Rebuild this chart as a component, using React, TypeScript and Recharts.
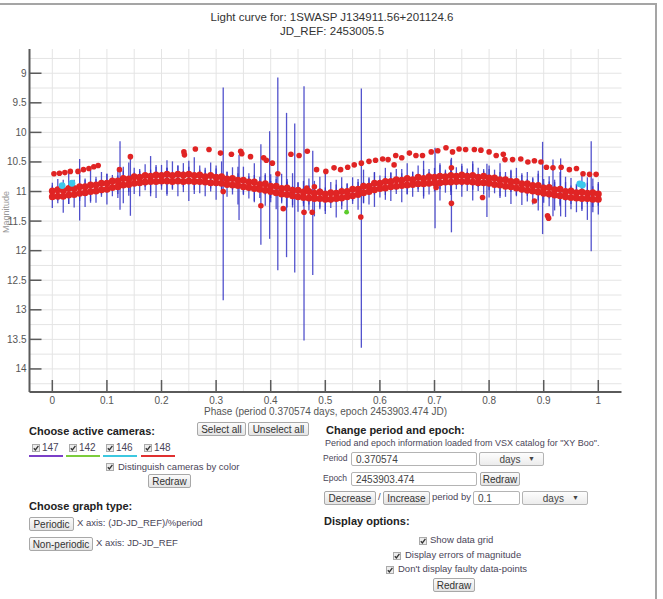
import { ScatterChart, Scatter, XAxis, YAxis, CartesianGrid, ErrorBar } from 'recharts';

const FONT = '"Liberation Sans", Arial, sans-serif';

// axes
const xTicks = [0, 0.1, 0.2, 0.3, 0.4, 0.5, 0.6, 0.7, 0.8, 0.9, 1];
const yTicks = [9, 9.5, 10, 10.5, 11, 11.5, 12, 12.5, 13, 13.5, 14];
const gridX = [0, 0.05, 0.1, 0.15, 0.2, 0.25, 0.3, 0.35, 0.4, 0.45, 0.5, 0.55, 0.6, 0.65, 0.7, 0.75, 0.8, 0.85, 0.9, 0.95, 1];
const gridY = [8.75, 9, 9.25, 9.5, 9.75, 10, 10.25, 10.5, 10.75, 11, 11.25, 11.5, 11.75, 12, 12.25, 12.5, 12.75, 13, 13.25, 13.5, 13.75, 14, 14.25];
const xDomain = [-0.0418, 1.0425];
const yDomain = [8.59, 14.39];

// main band, camera 148 (two rows of points across the phase)
const bandPhase = [
  0, 0.01, 0.02, 0.03, 0.04, 0.05, 0.06, 0.07, 0.08, 0.09,
  0.1, 0.11, 0.12, 0.13, 0.14, 0.15, 0.16, 0.17, 0.18, 0.19,
  0.2, 0.21, 0.22, 0.23, 0.24, 0.25, 0.26, 0.27, 0.28, 0.29,
  0.3, 0.31, 0.32, 0.33, 0.34, 0.35, 0.36, 0.37, 0.38, 0.39,
  0.4, 0.41, 0.42, 0.43, 0.44, 0.45, 0.46, 0.47, 0.48, 0.49,
  0.5, 0.51, 0.52, 0.53, 0.54, 0.55, 0.56, 0.57, 0.58, 0.59,
  0.6, 0.61, 0.62, 0.63, 0.64, 0.65, 0.66, 0.67, 0.68, 0.69,
  0.7, 0.71, 0.72, 0.73, 0.74, 0.75, 0.76, 0.77, 0.78, 0.79,
  0.8, 0.81, 0.82, 0.83, 0.84, 0.85, 0.86, 0.87, 0.88, 0.89,
  0.9, 0.91, 0.92, 0.93, 0.94, 0.95, 0.96, 0.97, 0.98, 0.99,
  1,
];
const bandUpper = [
  10.99, 10.97, 10.98, 10.95, 10.95, 10.92, 10.92, 10.89, 10.89, 10.86,
  10.86, 10.82, 10.82, 10.78, 10.79, 10.75, 10.76, 10.73, 10.74, 10.72,
  10.73, 10.71, 10.73, 10.71, 10.72, 10.71, 10.73, 10.72, 10.75, 10.73,
  10.76, 10.75, 10.79, 10.78, 10.81, 10.81, 10.84, 10.84, 10.88, 10.87,
  10.91, 10.91, 10.95, 10.94, 10.98, 10.98, 11.01, 11.0, 11.03, 11.01,
  11.04, 11.02, 11.03, 11.0, 11.0, 10.96, 10.96, 10.91, 10.91, 10.86,
  10.86, 10.83, 10.83, 10.8, 10.81, 10.78, 10.8, 10.76, 10.78, 10.75,
  10.76, 10.74, 10.75, 10.73, 10.74, 10.72, 10.74, 10.73, 10.76, 10.74,
  10.77, 10.77, 10.8, 10.8, 10.83, 10.83, 10.87, 10.87, 10.9, 10.9,
  10.94, 10.93, 10.97, 10.96, 11.0, 10.99, 11.02, 11.01, 11.03, 11.02,
  11.04,
];
const bandLower = [
  11.09, 11.08, 11.08, 11.06, 11.05, 11.03, 11.02, 11.0, 10.99, 10.97,
  10.96, 10.93, 10.92, 10.89, 10.88, 10.86, 10.85, 10.84, 10.83, 10.83,
  10.82, 10.82, 10.83, 10.82, 10.83, 10.82, 10.83, 10.83, 10.84, 10.85,
  10.85, 10.86, 10.88, 10.89, 10.9, 10.92, 10.93, 10.95, 10.96, 10.98,
  11.0, 11.02, 11.04, 11.05, 11.07, 11.09, 11.1, 11.11, 11.12, 11.12,
  11.13, 11.13, 11.12, 11.11, 11.09, 11.07, 11.05, 11.02, 11.0, 10.97,
  10.95, 10.94, 10.92, 10.91, 10.9, 10.89, 10.88, 10.87, 10.87, 10.86,
  10.85, 10.85, 10.84, 10.84, 10.83, 10.83, 10.83, 10.84, 10.85, 10.85,
  10.86, 10.88, 10.89, 10.91, 10.92, 10.94, 10.96, 10.98, 10.99, 11.01,
  11.03, 11.04, 11.06, 11.07, 11.09, 11.1, 11.11, 11.12, 11.12, 11.13,
  11.13,
];
const upperErr = [
  0.14, 0.18, 0.1, 0.26, 0.15, 0.2, 0.12, 0.3, 0.14, 0.19,
  0.16, 0.1, 0.22, 0.13, 0.28, 0.15, 0.11, 0.19, 0.34, 0.14,
  0.18, 0.11, 0.24, 0.15, 0.2, 0.13, 0.31, 0.16, 0.12, 0.22,
  0.15, 0.26, 0.13, 0.19, 0.12, 0.23, 0.15, 0.32, 0.13, 0.18,
  0.2, 0.12, 0.25, 0.15, 0.29, 0.13, 0.19, 0.22, 0.14, 0.26,
  0.34, 0.18, 0.15, 0.24, 0.13, 0.2, 0.12, 0.28, 0.15, 0.19,
  0.13, 0.23, 0.15, 0.18, 0.12, 0.26, 0.14, 0.2, 0.3, 0.13,
  0.16, 0.22, 0.12, 0.27, 0.15, 0.19, 0.13, 0.24, 0.16, 0.12,
  0.21, 0.14, 0.28, 0.13, 0.18, 0.23, 0.15, 0.2, 0.12, 0.25,
  0.15, 0.19, 0.13, 0.29, 0.16, 0.22, 0.14, 0.32, 0.18, 0.24,
  0.2,
];
const lowerErr = [
  0.19, 0.12, 0.28, 0.15, 0.22, 0.13, 0.24, 0.16, 0.2, 0.12,
  0.26, 0.15, 0.19, 0.31, 0.13, 0.18, 0.23, 0.14, 0.2, 0.28,
  0.15, 0.22, 0.12, 0.26, 0.18, 0.34, 0.14, 0.2, 0.24, 0.15,
  0.29, 0.13, 0.21, 0.16, 0.32, 0.14, 0.19, 0.23, 0.15, 0.26,
  0.18, 0.28, 0.13, 0.22, 0.16, 0.25, 0.15, 0.21, 0.3, 0.18,
  0.2, 0.15, 0.32, 0.19, 0.23, 0.14, 0.26, 0.18, 0.22, 0.29,
  0.15, 0.2, 0.24, 0.13, 0.28, 0.16, 0.21, 0.14, 0.25, 0.19,
  0.15, 0.3, 0.18, 0.22, 0.13, 0.26, 0.16, 0.31, 0.14, 0.2,
  0.24, 0.15, 0.22, 0.18, 0.29, 0.14, 0.27, 0.19, 0.23, 0.31,
  0.16, 0.21, 0.26, 0.15, 0.34, 0.2, 0.24, 0.18, 0.36, 0.22,
  0.26,
];

// points with large magnitude errors
const wildPhase = [0.05, 0.124, 0.143, 0.21, 0.313, 0.342, 0.382, 0.398, 0.413, 0.429, 0.444, 0.461, 0.477, 0.566, 0.701, 0.731, 0.796, 0.898, 0.917, 0.931, 0.987];
const wildMag = [10.97, 10.73, 10.91, 10.77, 11.04, 10.93, 11.05, 10.89, 10.7, 10.89, 11.11, 11.37, 11.36, 11.45, 10.94, 11.06, 10.98, 10.94, 10.94, 10.93, 11.08];
const wildErr = [0.52, 0.58, 0.5, 0.3, 1.8, 0.55, 0.85, 0.91, 1.63, 1.22, 1.26, 2.15, 1.05, 2.19, 0.68, 0.63, 0.45, 0.78, 0.48, 0.49, 0.93];

// camera 148, points away from the main band
const arcPhase = [
  0.003, 0.013, 0.023, 0.033, 0.047, 0.057, 0.067, 0.076, 0.084, 0.123, 0.143,
  0.241, 0.242, 0.262, 0.287, 0.308, 0.328, 0.345, 0.347, 0.363, 0.387, 0.392, 0.403, 0.437, 0.452, 0.467, 0.484, 0.501, 0.516,
  0.528, 0.541, 0.553, 0.566, 0.58, 0.592, 0.605, 0.615, 0.626, 0.629, 0.64, 0.654, 0.666, 0.678, 0.694, 0.706, 0.721, 0.733,
  0.745, 0.757, 0.773, 0.785, 0.8, 0.813, 0.826, 0.829, 0.843, 0.858, 0.871, 0.883, 0.895, 0.905, 0.917, 0.932, 0.947, 0.96,
  0.972, 0.984, 0.996,
];
const arcMag = [
  10.7, 10.69, 10.68, 10.66, 10.66, 10.63, 10.61, 10.58, 10.56, 10.63, 10.41,
  10.33, 10.38, 10.28, 10.29, 10.35, 10.37, 10.32, 10.36, 10.41, 10.43, 10.47, 10.52, 10.37, 10.39, 10.32, 10.63, 10.66, 10.6,
  10.63, 10.59, 10.55, 10.52, 10.49, 10.47, 10.45, 10.46, 10.55, 10.39, 10.43, 10.35, 10.39, 10.39, 10.33, 10.31, 10.26, 10.33,
  10.28, 10.29, 10.29, 10.3, 10.33, 10.39, 10.37, 10.46, 10.46, 10.45, 10.5, 10.48, 10.5, 10.59, 10.6, 10.59, 10.63, 10.61,
  10.7, 10.71, 10.71,
];
const strayPhase = [0.313, 0.382, 0.413, 0.423, 0.461, 0.466, 0.476, 0.48, 0.565, 0.703, 0.731, 0.731, 0.788, 0.883, 0.907, 0.909];
const strayMag = [11.0, 11.24, 10.7, 11.29, 11.35, 10.94, 11.35, 10.92, 11.43, 10.93, 11.2, 10.6, 11.1, 11.16, 11.41, 11.45];

// other cameras
const cyanPhase = [0.018, 0.036, 0.966, 0.971];
const cyanMag = [10.9, 10.86, 10.87, 10.89];
const greenPhase = [0.539];
const greenMag = [11.35];

const pts = (xs: number[], ys: number[], es?: number[]) =>
  xs.map((x, i) => ({ x, y: ys[i], err: es ? es[i] : 0 }));

const errorPoints = [
  ...pts(bandPhase, bandUpper, upperErr),
  ...pts(bandPhase, bandLower, lowerErr),
  ...pts(wildPhase, wildMag, wildErr),
];
const bandPoints = [...pts(bandPhase, bandUpper), ...pts(bandPhase, bandLower)];
const offPoints = [...pts(arcPhase, arcMag), ...pts(strayPhase, strayMag)];
const cyanPoints = pts(cyanPhase, cyanMag);
const greenPoints = pts(greenPhase, greenMag);

const AXIS = '#5a5a5a';

const XTick = ({ x, y, payload }: any) => (
  <g>
    <line x1={x} x2={x} y1={y} y2={y - 12} stroke={AXIS} strokeWidth={1.5} />
    <text x={x} y={y + 12} textAnchor="middle" fontSize={10} fill="#555" fontFamily={FONT}>{payload.value}</text>
  </g>
);

const YTick = ({ x, y, payload }: any) => (
  <g>
    <line x1={x} x2={x + 12} y1={y} y2={y} stroke={AXIS} strokeWidth={1.5} />
    <text x={x - 3} y={y + 3.5} textAnchor="end" fontSize={10} fill="#555" fontFamily={FONT}>{payload.value}</text>
  </g>
);

const MagLabel = () => (
  <text x={9} y={212} transform="rotate(-90 9 212)" textAnchor="middle" fontSize={9} fill="#999" fontFamily={FONT}>
    Magnitude
  </text>
);

const dot = (fill: string, r: number) => (p: any) => <circle cx={p.cx} cy={p.cy} r={r} fill={fill} />;

const text: any = { position: 'absolute', fontFamily: FONT, whiteSpace: 'nowrap', lineHeight: 1, color: '#4a4558' };

const Label = ({ x, y, size = 9.5, bold = false, color, children }: any) => (
  <div style={{ ...text, left: x, top: y - size * 0.6, fontSize: size, fontWeight: bold ? 700 : 400, color: color || text.color }}>
    {children}
  </div>
);

const Heading = ({ x, y, children }: any) => <Label x={x} y={y} size={11} bold color="#222">{children}</Label>;

const Btn = ({ x, y, w, h = 14, children }: any) => (
  <div
    style={{
      position: 'absolute', left: x, top: y, width: w, height: h, boxSizing: 'border-box',
      border: '1px solid #a8a8a8', borderRadius: 2, background: 'linear-gradient(#fbfbfb, #e4e4e4)',
      fontFamily: FONT, fontSize: 10, color: '#333', display: 'flex', alignItems: 'center', justifyContent: 'center',
    }}
  >
    {children}
  </div>
);

const Field = ({ x, y, w, h = 14, children }: any) => (
  <div
    style={{
      position: 'absolute', left: x, top: y, width: w, height: h, boxSizing: 'border-box',
      border: '1px solid #b4b4b4', borderRadius: 2, background: '#fff', fontFamily: FONT, fontSize: 10,
      color: '#444', display: 'flex', alignItems: 'center', paddingLeft: 4,
    }}
  >
    {children}
  </div>
);

const Select = ({ x, y, w, h = 14 }: any) => (
  <div
    style={{
      position: 'absolute', left: x, top: y, width: w, height: h, boxSizing: 'border-box',
      border: '1px solid #b4b4b4', borderRadius: 2, background: 'linear-gradient(#fdfdfd, #ececec)', fontFamily: FONT,
      fontSize: 10, color: '#444',
    }}
  >
    <span style={{ position: 'absolute', left: w * 0.3, top: 1 }}>days</span>
    <span style={{ position: 'absolute', right: 8, top: 2, fontSize: 7 }}>▼</span>
  </div>
);

const Check = ({ x, y }: any) => (
  <svg style={{ position: 'absolute', left: x, top: y }} width={8} height={8}>
    <rect x={0.5} y={0.5} width={7} height={7} fill="#ececec" stroke="#aaa" />
    <polyline points="1.8,4.2 3.4,6 6.4,1.8" fill="none" stroke="#333" strokeWidth={1.3} />
  </svg>
);

const Camera = ({ x, color, name }: any) => (
  <>
    <Check x={x + 3} y={444} />
    <Label x={x + 13} y={449} size={10}>{name}</Label>
    <div style={{ position: 'absolute', left: x, top: 455, width: 34, height: 1.5, background: color }} />
  </>
);

export default function App() {
  return (
    <div style={{ position: 'absolute', left: 0, top: 0, width: 663, height: 599, background: '#fff', overflow: 'hidden' }}>
      <div style={{ position: 'absolute', left: -2, top: 3, width: 657, height: 620, borderTop: '2px solid #a5a5a5', borderRight: '2px solid #a5a5a5' }} />
      <div style={{ ...text, left: 0, width: 664, textAlign: 'center', top: 12, fontSize: 11.5, color: '#333' }}>
        Light curve for: 1SWASP J134911.56+201124.6
      </div>
      <div style={{ ...text, left: 0, width: 664, textAlign: 'center', top: 26, fontSize: 11.5, color: '#333' }}>
        JD_REF: 2453005.5
      </div>

      <div style={{ position: 'absolute', left: 0, top: 0 }}>
        <ScatterChart width={663} height={420} margin={{ top: 49, right: 41.5, bottom: 0, left: 0 }}>
          <CartesianGrid stroke="#e4e4e4" verticalValues={gridX} horizontalValues={gridY} />
          <XAxis
            dataKey="x" type="number" domain={xDomain} allowDataOverflow ticks={xTicks} interval={0}
            height={28} tickSize={0} tickMargin={0} tick={<XTick />} tickLine={false}
            axisLine={{ stroke: AXIS, strokeWidth: 2 }}
            label={{ value: 'Phase (period 0.370574 days, epoch 2453903.474 JD)', position: 'insideBottom', offset: 5, fontSize: 10, fill: '#555', fontFamily: FONT }}
          />
          <XAxis xAxisId="top" orientation="top" type="number" domain={xDomain} allowDataOverflow height={0} tick={false} tickLine={false} axisLine={{ stroke: AXIS, strokeWidth: 2 }} />
          <YAxis
            dataKey="y" type="number" domain={yDomain} reversed allowDataOverflow ticks={yTicks} interval={0}
            width={29.5} tickSize={0} tickMargin={0} tick={<YTick />} tickLine={false}
            axisLine={{ stroke: AXIS, strokeWidth: 2 }}
            label={<MagLabel />}
          />
          <YAxis yAxisId="right" orientation="right" type="number" domain={yDomain} reversed allowDataOverflow width={0} tick={false} tickLine={false} axisLine={{ stroke: AXIS, strokeWidth: 2 }} />
          <Scatter data={errorPoints} shape={() => <g />} isAnimationActive={false}>
            <ErrorBar dataKey="err" direction="y" width={0} stroke="#3434c4" strokeWidth={1.3} strokeOpacity={0.85} />
          </Scatter>
          <Scatter data={bandPoints} shape={dot('#e02424', 3.5)} isAnimationActive={false} />
          <Scatter data={offPoints} shape={dot('#e02424', 2.8)} isAnimationActive={false} />
          <Scatter data={cyanPoints} shape={dot('#3cc8ec', 3.4)} isAnimationActive={false} />
          <Scatter data={greenPoints} shape={dot('#5ccc2c', 2.4)} isAnimationActive={false} />
        </ScatterChart>
      </div>

      {/* cameras */}
      <Heading x={29} y={433}>Choose active cameras:</Heading>
      <Btn x={197} y={422} w={49}>Select all</Btn>
      <Btn x={248} y={422} w={61}>Unselect all</Btn>
      <Camera x={29} color="#7b3fc8" name="147" />
      <Camera x={66} color="#7ccc3c" name="142" />
      <Camera x={103} color="#3cc8e0" name="146" />
      <Camera x={141} color="#e03030" name="148" />
      <Check x={106} y={463} />
      <Label x={118} y={468}>Distinguish cameras by color</Label>
      <Btn x={148} y={474} w={43}>Redraw</Btn>

      <Heading x={29} y={508}>Choose graph type:</Heading>
      <Btn x={29} y={517} w={45}>Periodic</Btn>
      <Label x={77} y={524}>X axis: (JD-JD_REF)/%period</Label>
      <Btn x={29} y={537} w={64}>Non-periodic</Btn>
      <Label x={96} y={544}>X axis: JD-JD_REF</Label>

      {/* period */}
      <Heading x={326} y={432}>Change period and epoch:</Heading>
      <Label x={325} y={444} size={9}>Period and epoch information loaded from VSX catalog for "XY Boo".</Label>
      <Label x={323} y={459} size={8.5}>Period</Label>
      <Field x={351} y={452} w={126}>0.370574</Field>
      <Select x={479} y={452} w={65} />
      <Label x={323} y={479} size={8.5}>Epoch</Label>
      <Field x={351} y={472} w={126}>2453903.474</Field>
      <Btn x={480} y={472} w={40}>Redraw</Btn>
      <Btn x={324} y={491} w={52}>Decrease</Btn>
      <Label x={378} y={498}>/</Label>
      <Btn x={383} y={491} w={47}>Increase</Btn>
      <Label x={432} y={498}>period by</Label>
      <Field x={473} y={491} w={47}>0.1</Field>
      <Select x={522} y={491} w={66} />

      <Heading x={324} y={523}>Display options:</Heading>
      <Check x={419} y={537} />
      <Label x={430} y={541}>Show data grid</Label>
      <Check x={393} y={552} />
      <Label x={405} y={556}>Display errors of magnitude</Label>
      <Check x={386} y={566} />
      <Label x={398} y={570}>Don't display faulty data-points</Label>
      <Btn x={433} y={578} w={42}>Redraw</Btn>
    </div>
  );
}
